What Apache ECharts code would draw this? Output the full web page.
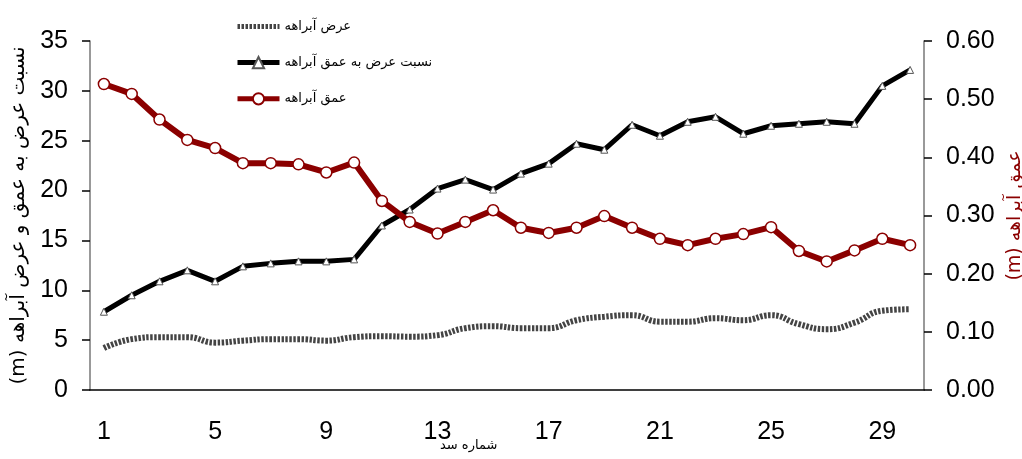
<!DOCTYPE html>
<html>
<head>
<meta charset="utf-8">
<script src="https://cdn.jsdelivr.net/npm/echarts@6/dist/echarts.min.js"></script>
<style>
  html, body { margin: 0; padding: 0; background: #fff; }
  #chart { width: 1022px; height: 459px; }
</style>
</head>
<body>
<div id="chart"></div>
<script>
// dam numbers 1..30
const damNumbers = ['1','2','3','4','5','6','7','8','9','10','11','12','13','14','15','16','17','18','19','20','21','22','23','24','25','26','27','28','29','30'];

// channel width (m), left axis
const widthValues = [4.2, 5.1, 5.3, 5.3, 4.75, 4.95, 5.1, 5.1, 4.95, 5.3, 5.4, 5.35, 5.5, 6.2, 6.4, 6.2, 6.2, 7.0, 7.35, 7.5, 6.85, 6.85, 7.2, 7.0, 7.5, 6.6, 6.1, 6.75, 7.95, 8.1];

// width / depth ratio, left axis
const ratioValues = [7.85, 9.5, 10.9, 12.0, 10.9, 12.4, 12.7, 12.9, 12.9, 13.1, 16.5, 18.1, 20.2, 21.1, 20.1, 21.7, 22.7, 24.7, 24.1, 26.6, 25.5, 26.9, 27.4, 25.7, 26.5, 26.7, 26.9, 26.7, 30.5, 32.1];

// channel depth (m), right axis
const depthValues = [0.526, 0.509, 0.465, 0.430, 0.416, 0.390, 0.390, 0.388, 0.374, 0.391, 0.325, 0.289, 0.269, 0.289, 0.309, 0.279, 0.270, 0.279, 0.299, 0.279, 0.260, 0.249, 0.260, 0.268, 0.280, 0.239, 0.221, 0.240, 0.260, 0.249];

const seriesNames = ['عرض آبراهه', 'نسبت عرض به عمق آبراهه', 'عمق آبراهه'];
const xAxisTitle = 'شماره سد';

const numFont = '"Liberation Sans", Arial, sans-serif';
const faFont = '"DejaVu Sans", sans-serif';
const darkRed = '#8b0000';

const chart = echarts.init(document.getElementById('chart'));

chart.setOption({
  animation: false,
  // x axis title sits just under the "13" label, a bit left of centre
  title: {
    text: xAxisTitle,
    left: 440,
    top: 439,
    padding: 0,
    textStyle: { fontFamily: faFont, fontSize: 13, fontWeight: 'normal', color: '#000' },
  },
  grid: { left: 90, right: 98, top: 41, bottom: 69, containLabel: false, outerBoundsMode: 'none' },
  legend: {
    orient: 'vertical',
    left: 230,
    top: 15,
    itemGap: 23,
    itemWidth: 42,
    itemHeight: 14,
    data: [
      { name: seriesNames[0], itemStyle: { opacity: 0 }, lineStyle: { width: 5 } },
      { name: seriesNames[1], lineStyle: { width: 5 } },
      { name: seriesNames[2], lineStyle: { width: 5 } },
    ],
    textStyle: { fontFamily: faFont, fontSize: 13, color: '#000' },
  },
  xAxis: {
    type: 'category',
    data: damNumbers,
    boundaryGap: true,
    axisLine: { lineStyle: { color: '#000', width: 1.5 } },
    axisTick: { interval: 0, length: 8, lineStyle: { color: '#000', width: 1.5 } },
    axisLabel: { interval: 3, margin: 30, fontFamily: numFont, fontSize: 25, color: '#000' },
  },
  yAxis: [
    {
      type: 'value',
      min: 0,
      max: 35,
      interval: 5,
      name: '(m) نسبت عرض به عمق و عرض آبراهه',
      nameLocation: 'middle',
      nameRotate: 90,
      nameGap: 56,
      nameTextStyle: { fontFamily: faFont, fontSize: 20, color: '#000' },
      axisLine: { show: true, lineStyle: { color: '#777', width: 1.5 } },
      axisTick: { show: true, length: 8, lineStyle: { color: '#000', width: 1.5 } },
      axisLabel: { margin: 22, fontFamily: numFont, fontSize: 25, color: '#000' },
      splitLine: { show: false },
    },
    {
      type: 'value',
      min: 0,
      max: 0.6,
      interval: 0.1,
      position: 'right',
      name: '(m) عمق آبراهه',
      nameLocation: 'middle',
      nameRotate: 90,
      nameGap: 78,
      nameTextStyle: { fontFamily: faFont, fontSize: 19, color: darkRed },
      axisLine: { show: true, lineStyle: { color: '#777', width: 1.5 } },
      axisTick: { show: true, length: 8, lineStyle: { color: '#000', width: 1.5 } },
      axisLabel: {
        margin: 22,
        fontFamily: numFont,
        fontSize: 25,
        color: '#000',
        formatter: v => v.toFixed(2),
      },
      splitLine: { show: false },
    },
  ],
  series: [
    {
      name: seriesNames[0],
      type: 'line',
      yAxisIndex: 0,
      data: widthValues,
      smooth: true,
      showSymbol: false,
      symbol: 'none',
      lineStyle: { color: '#444', width: 6, type: [2.5, 1.5] },
      itemStyle: { color: '#444' },
    },
    {
      name: seriesNames[1],
      type: 'line',
      yAxisIndex: 0,
      data: ratioValues,
      symbol: 'triangle',
      symbolSize: 7,
      lineStyle: { color: '#000', width: 5 },
      itemStyle: { color: '#fff', borderColor: '#555', borderWidth: 1 },
    },
    {
      name: seriesNames[2],
      type: 'line',
      yAxisIndex: 1,
      data: depthValues,
      symbol: 'circle',
      symbolSize: 11,
      lineStyle: { color: darkRed, width: 6 },
      itemStyle: { color: '#fff', borderColor: darkRed, borderWidth: 1.5 },
    },
  ],
});
</script>
</body>
</html>
